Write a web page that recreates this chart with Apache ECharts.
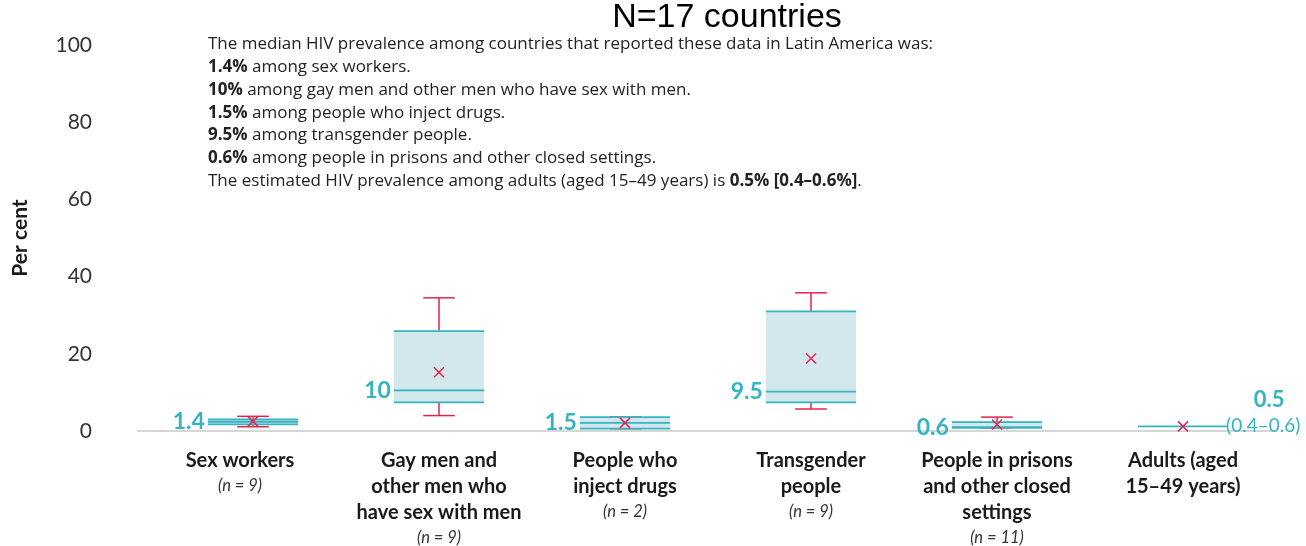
<!DOCTYPE html>
<html>
<head>
<meta charset="utf-8">
<script src="https://cdn.jsdelivr.net/npm/echarts@6/dist/echarts.min.js"></script>
<style>
html,body{margin:0;padding:0;background:#fff;}
#chart{width:1306px;height:546px;}
</style>
</head>
<body>
<div id="chart"></div>
<script>
// ---- data ----
const categoryLines = [
  ['Sex workers'],
  ['Gay men and', 'other men who', 'have sex with men'],
  ['People who', 'inject drugs'],
  ['Transgender', 'people'],
  ['People in prisons', 'and other closed', 'settings'],
  ['Adults (aged', '15–49 years)']
];
const categories = categoryLines.map(l => l.join(' '));
const sampleSizes = ['(n = 9)', '(n = 9)', '(n = 2)', '(n = 9)', '(n = 11)', ''];
const whiskerLow  = [1.1, 4.0, 0.6, 5.7, 0.8, 1.2];
const quartile1   = [1.7, 7.4, 0.6, 7.4, 0.8, 1.2];
const medians     = [2.4, 10.5, 2.1, 10.2, 1.0, 1.2];
const quartile3   = [3.0, 25.9, 3.6, 31.0, 2.3, 1.2];
const whiskerHigh = [3.8, 34.5, 3.6, 35.8, 3.6, 1.2];
const means       = [2.5, 15.2, 2.1, 18.8, 1.7, 1.2];
const medianLabels = ['1.4', '10', '1.5', '9.5', '0.6', ''];
const adultEstimate = '0.5';
const adultRange = '(0.4–0.6)';
const yTicks = [0, 20, 40, 60, 80, 100];

const TEAL = '#35b4c0';
const FILL = '#d2e8ed';
const RED = '#e2234e';
const FONT = 'Lato, "Open Sans", sans-serif';
const NOTE_FONT = '"Open Sans", "Noto Sans", sans-serif';

const seriesData = categories.map((c, i) => [i, whiskerLow[i], quartile1[i], medians[i], quartile3[i], whiskerHigh[i], means[i]]);

function renderItem(params, api) {
  const xi = api.value(0);
  const mn = api.value(1), q1 = api.value(2), md = api.value(3), q3 = api.value(4), mx = api.value(5), mean = api.value(6);
  const cx = api.coord([xi, 0])[0];
  const band = api.size([1, 0])[0];
  const w = band * 0.485;
  const capW = band * 0.17;
  const Y = v => api.coord([xi, v])[1];
  const left = cx - w / 2, right = cx + w / 2;
  const ch = [];
  const redLine = (x1, y1, x2, y2) => ({type: 'line', shape: {x1, y1, x2, y2}, style: {stroke: RED, lineWidth: 1.5}});
  const tealLine = (yy, lw) => ({type: 'line', shape: {x1: left, y1: yy, x2: right, y2: yy}, style: {stroke: TEAL, lineWidth: lw}});
  const single = (q1 === q3);
  if (!single) {
    if (mx > q3) ch.push(redLine(cx, Y(mx), cx, Y(q3)));
    ch.push(redLine(cx - capW / 2, Y(mx), cx + capW / 2, Y(mx)));
    if (mn < q1) ch.push(redLine(cx, Y(q1), cx, Y(mn)));
    ch.push(redLine(cx - capW / 2, Y(mn), cx + capW / 2, Y(mn)));
    ch.push({type: 'rect', shape: {x: left, y: Y(q3), width: w, height: Y(q1) - Y(q3)}, style: {fill: FILL}});
    ch.push(tealLine(Y(q3), 1.8));
    ch.push(tealLine(Y(md), 1.8));
    ch.push(tealLine(Y(q1), 1.8));
  } else {
    ch.push(tealLine(Y(md), 1.6));
  }
  const my = Y(mean), s = 5;
  ch.push(redLine(cx - s, my - s, cx + s, my + s));
  ch.push(redLine(cx - s, my + s, cx + s, my - s));
  const lab = medianLabels[params.dataIndex];
  if (lab) {
    ch.push({type: 'text', style: {text: lab, x: left - 3, y: Y(md), align: 'right', verticalAlign: 'middle',
      fill: TEAL, fontFamily: FONT, fontWeight: 'bold', fontSize: 23}});
  }
  if (single) {
    ch.push({type: 'text', style: {text: adultEstimate, x: right + 41, y: Y(md) - 26, align: 'center', verticalAlign: 'middle',
      fill: TEAL, fontFamily: FONT, fontWeight: 'bold', fontSize: 22}});
    ch.push({type: 'text', style: {text: adultRange, x: right - 2, y: Y(md), align: 'left', verticalAlign: 'middle',
      fill: TEAL, fontFamily: FONT, fontSize: 19}});
  }
  return {type: 'group', children: ch};
}

const chart = echarts.init(document.getElementById('chart'), null, {renderer: 'canvas'});

const annotationText = [
  'The median HIV prevalence among countries that reported these data in Latin America was:',
  '{b|1.4%} among sex workers.',
  '{b|10%} among gay men and other men who have sex with men.',
  '{b|1.5%} among people who inject drugs.',
  '{b|9.5%} among transgender people.',
  '{b|0.6%} among people in prisons and other closed settings.',
  'The estimated HIV prevalence among adults (aged 15–49 years) is {b|0.5%} {b|[0.4–0.6%]}.'
].join('\n');

const option = {
  animation: false,
  backgroundColor: '#fff',
  grid: {left: 160, right: 30, top: 45, bottom: 114.5, containLabel: false},
  xAxis: {
    type: 'category',
    data: categories,
    axisTick: {show: false},
    axisLine: {lineStyle: {color: '#c9c9c9', width: 1.5}},
    axisLabel: {
      interval: 0,
      margin: 17,
      formatter: (v, i) => {
        const p = i === 0 ? '0' : '';
        let t = categoryLines[i].map(l => '{b' + p + '|' + l + '}').join('\n');
        if (sampleSizes[i]) t += '\n{n' + p + '|' + sampleSizes[i] + '}';
        return t;
      },
      rich: {
        b: {fontFamily: FONT, fontWeight: 'bold', fontSize: 20, lineHeight: 26, color: '#1a1a1a'},
        n: {fontFamily: FONT, fontStyle: 'italic', fontSize: 16.5, lineHeight: 23, color: '#333'},
        b0: {fontFamily: FONT, fontWeight: 'bold', fontSize: 20, lineHeight: 26, color: '#1a1a1a', padding: [0, 26, 0, 0]},
        n0: {fontFamily: FONT, fontStyle: 'italic', fontSize: 16.5, lineHeight: 23, color: '#333', padding: [0, 26, 0, 0]}
      }
    }
  },
  yAxis: {
    type: 'value',
    min: yTicks[0],
    max: yTicks[yTicks.length - 1],
    interval: yTicks[1] - yTicks[0],
    name: 'Per cent',
    nameLocation: 'middle',
    nameGap: 129,
    nameRotate: 90,
    nameTextStyle: {fontFamily: FONT, fontWeight: 'bold', fontSize: 21, color: '#1a1a1a'},
    axisLine: {show: false},
    axisTick: {show: false},
    splitLine: {show: false},
    axisLabel: {margin: 68, fontFamily: FONT, fontSize: 21, color: '#333'}
  },
  series: [{
    type: 'custom',
    renderItem: renderItem,
    encode: {x: 0, y: [1, 2, 3, 4, 5, 6]},
    data: seriesData,
    clip: false
  }],
  graphic: [
    {type: 'text', x: 727, y: 18, style: {text: 'N=17 countries', align: 'center', verticalAlign: 'middle',
      fontFamily: '"Liberation Sans", Arial, sans-serif', fontSize: 34, fill: '#000'}, z: 10},
    {type: 'text', left: 208, top: 33, style: {text: annotationText, fontFamily: NOTE_FONT, fontSize: 17, fill: '#222', lineHeight: 22.8,
      rich: {b: {fontWeight: 'bold', fontFamily: NOTE_FONT, fontSize: 17, fill: '#222', lineHeight: 22.8}}}}
  ]
};
chart.setOption(option);
const y0 = chart.convertToPixel({yAxisIndex: 0}, 0);
const xStart = chart.convertToPixel({xAxisIndex: 0}, 0) - chart.getModel().getComponent('xAxis').axis.getBandWidth() / 2;
chart.setOption({graphic: [{}, {}, {type: 'line', shape: {x1: xStart - 23, y1: y0, x2: xStart + 1, y2: y0}, style: {stroke: '#c9c9c9', lineWidth: 1.5}}]});
</script>
</body>
</html>
